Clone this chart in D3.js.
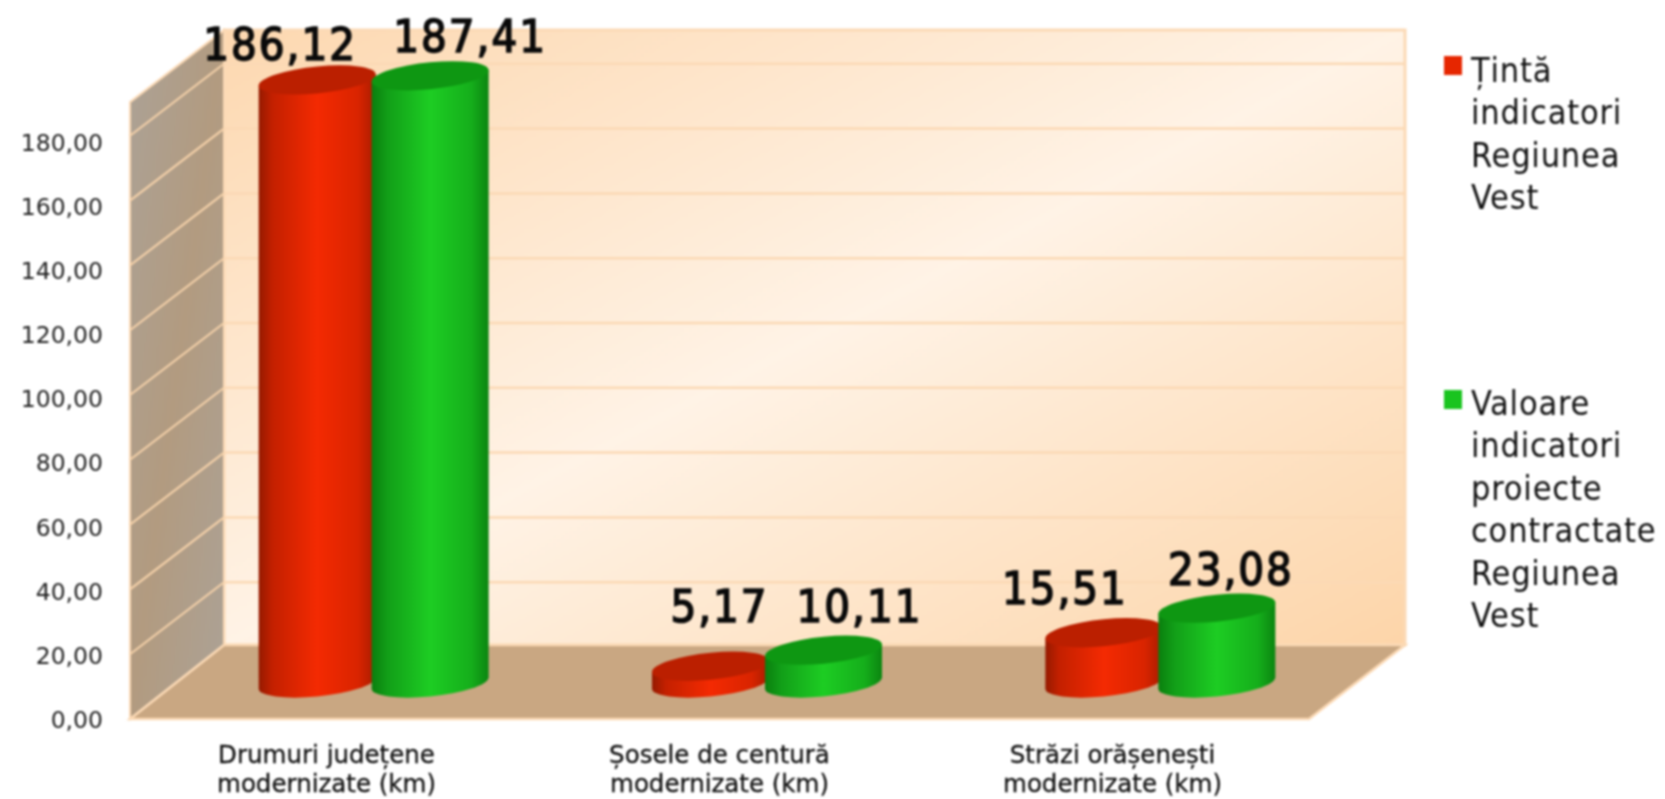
<!DOCTYPE html>
<html><head><meta charset="utf-8">
<script src="https://cdn.jsdelivr.net/npm/d3@7"></script>
<style>
html,body{margin:0;padding:0;background:#fff}
svg{display:block;filter:blur(.8px)}
text{font-family:"DejaVu Sans Condensed","DejaVu Sans",sans-serif}
</style></head><body>
<svg id="c" width="1665" height="799"></svg>
<script>
const categories=[["Drumuri județene","modernizate (km)"],["Șosele de centură","modernizate (km)"],["Străzi orășenești","modernizate (km)"]];
const catKeys=categories.map(c=>c[0]);
const seriesNames=["Țintă","Valoare"];
const target=[186.12,5.17,15.51];
const actual=[187.41,10.11,23.08];
const yTicks=[0,20,40,60,80,100,120,140,160,180];
const legendTarget=["Țintă","indicatori","Regiunea","Vest"];
const legendActual=["Valoare","indicatori","proiecte","contractate","Regiunea","Vest"];
// label nudges (px) as placed by the original renderer
const targetLabelDx=[-37,9,-39], targetLabelDy=[-20,-44,-29];
const actualLabelDx=[40,36,14], actualLabelDy=[-24,-28,-23];

const svg=d3.select("#c");
const defs=svg.append("defs");
const fmt=v=>d3.format(".2f")(v).replace(".",",");
function lg(id,stops,x2=1,y2=0){const g=defs.append("linearGradient").attr("id",id).attr("x1",0).attr("y1",0).attr("x2",x2).attr("y2",y2);
 stops.forEach(([o,c])=>g.append("stop").attr("offset",o).attr("stop-color",c));}
lg("wall",[[0,"#fdd8b0"],[.5,"#fff3e6"],[1,"#fdd5a9"]],1,1);
lg("side",[[0,"#aca296"],[.5,"#b29b80"],[1,"#aca296"]],1,1);
lg("r",[[0,"#951a00"],[.12,"#c42000"],[.5,"#f42a02"],[.85,"#d92400"],[1,"#a81c00"]]);
lg("g",[[0,"#0a7f0e"],[.14,"#129f18"],[.5,"#1dcd23"],[.85,"#15ae1b"],[1,"#0b8510"]]);

const frontL=130,frontR=1309,backL=224,backR=1405,frontY=719,backY=647,floorBackY=645,unit=3.24,maxV=190.4,baseY=683;
const yBack=d3.scaleLinear().domain([0,maxV]).range([backY,backY-maxV*unit]);
const yFront=d3.scaleLinear().domain([0,maxV]).range([frontY,frontY-maxV*unit]);
const yCyl=d3.scaleLinear().domain([0,maxV]).range([baseY,baseY-maxV*unit]);
const yAxisScale=d3.scaleLinear().domain([0,180]).range([720,142.5]);
const xMid=d3.scaleBand().domain(catKeys).range([(frontL+backL)/2,(frontR+backR)/2]);
const xFront=d3.scaleBand().domain(catKeys).range([frontL,frontR]);
const xInner=d3.scaleBand().domain(seriesNames).range([-113,113]);
const edge="#fbd9b5";
const poly=p=>"M"+p.join("L")+"Z";

// walls
svg.append("path").attr("d",poly([[backL,yBack(maxV)],[backR,yBack(maxV)],[backR,floorBackY],[backL,floorBackY]])).attr("fill","url(#wall)").attr("stroke",edge).attr("stroke-width",3);
svg.append("path").attr("d",poly([[frontL,yFront(maxV)],[backL,yBack(maxV)],[backL,floorBackY],[frontL,frontY]])).attr("fill","url(#side)").attr("stroke",edge).attr("stroke-width",2);
const grid=yTicks.slice(1);
svg.selectAll(".gb").data(grid).join("line").attr("x1",backL).attr("x2",backR).attr("y1",d=>yBack(d)).attr("y2",d=>yBack(d)).attr("stroke",edge).attr("stroke-width",2.5);
svg.selectAll(".gs").data(grid).join("line").attr("x1",frontL).attr("x2",backL).attr("y1",d=>yFront(d)).attr("y2",d=>yBack(d)).attr("stroke","#f6d2aa").attr("stroke-width",2);
svg.append("path").attr("d",poly([[frontL,frontY],[backL,floorBackY],[backR,floorBackY],[frontR,frontY]])).attr("fill","#c9a782").attr("stroke",edge).attr("stroke-width",2.5);

// axis
const ay=svg.append("g").attr("transform","translate(103,0)").call(d3.axisLeft(yAxisScale).tickValues(yTicks).tickFormat(fmt).tickSize(0).tickPadding(0));
ay.select(".domain").remove();
ay.selectAll("text").style("font-size","23.5px").style("font-family",'"DejaVu Sans"').attr("fill","#222");

// cylinders
const rx=58.5,ry=13.5,skew=-5.5;
function cyl(values,name,grad,top){
 const sel=svg.append("g").selectAll("g").data(values).join("g")
  .attr("transform",(d,i)=>`translate(${xMid(catKeys[i])+xMid.bandwidth()/2+xInner(name)+xInner.bandwidth()/2},${baseY}) skewY(${skew})`);
 sel.append("path").attr("d",d=>{const h=yCyl(0)-yCyl(d);return `M${-rx},${-h}L${-rx},0A${rx},${ry} 0 0 0 ${rx},0L${rx},${-h}Z`;}).attr("fill",`url(#${grad})`);
 sel.append("ellipse").attr("cy",d=>yCyl(d)-yCyl(0)).attr("rx",rx).attr("ry",ry).attr("fill",top);
}
cyl(target,"Țintă","r","#bb1f00");
cyl(actual,"Valoare","g","#0e9712");

// value labels
function labels(values,name,dx,dy){
 svg.append("g").selectAll("text").data(values).join("text")
  .attr("x",(d,i)=>xMid(catKeys[i])+xMid.bandwidth()/2+xInner(name)+xInner.bandwidth()/2+dx[i])
  .attr("y",(d,i)=>yCyl(d)+dy[i]).attr("text-anchor","middle")
  .attr("font-size",45).attr("letter-spacing",2).attr("fill","#0a0a0a").attr("stroke","#0a0a0a").attr("stroke-width",1.6).text(fmt);
}
labels(target,"Țintă",targetLabelDx,targetLabelDy);
labels(actual,"Valoare",actualLabelDx,actualLabelDy);

// category labels
const cat=svg.append("g").selectAll("text").data(categories).join("text")
 .attr("x",(d,i)=>xFront(catKeys[i])+xFront.bandwidth()/2).attr("text-anchor","middle").attr("font-size",24.5).attr("fill","#111").attr("stroke","#111").attr("stroke-width",.3).style("font-family",'"DejaVu Sans"');
cat.selectAll("tspan").data(d=>d).join("tspan").attr("x",function(){return d3.select(this.parentNode).attr("x");}).attr("y",(d,i)=>763+i*29).text(d=>d);

// legend
function legend(lines,color,swatchY,baseline){
 svg.append("rect").attr("x",1444).attr("y",swatchY).attr("width",18).attr("height",19).attr("fill",color);
 svg.append("g").selectAll("text").data(lines).join("text").attr("x",1471).attr("y",(d,i)=>baseline+i*42.4).attr("font-size",34).attr("letter-spacing",.8).attr("fill","#111").text(d=>d);
}
legend(legendTarget,"#e62600",56,82);
legend(legendActual,"#19c41f",390,415);
</script></body></html>
